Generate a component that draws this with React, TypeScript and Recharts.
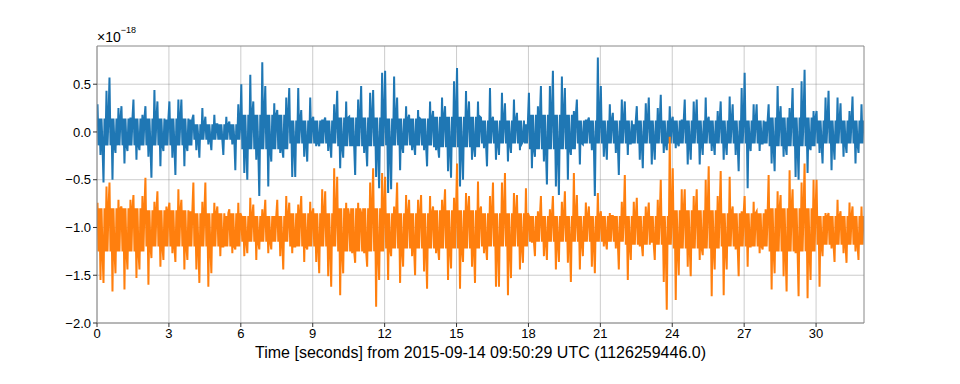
import React from "react";
import { LineChart, Line, XAxis, YAxis, CartesianGrid, ReferenceLine } from "recharts";

// Strain envelope read per 0.25 s bin (units of 1e-18): high and low excursion of each trace
const BIN_SECONDS = 0.25;
// Dense "core" band of each trace, read per 2 s
const CORE_SECONDS = 2;

const blueHigh = [
  0.29, 0.43, 0.57, 0.25, 0.27, 0.15, 0.34, 0.18, 0.27, 0.44, 0.32, 0.13, 0.32, 0.34, 0.34, 0.13,
  0.18, 0.25, 0.16, 0.18, 0.08, 0.16, 0.11, 0.29, 0.5, 0.6, 0.32, 0.73, 0.48, 0.3, 0.23, 0.36,
  0.46, 0.46, 0.23, 0.36, 0.16, 0.13, 0.15, 0.29, 0.43, 0.32, 0.16, 0.34, 0.48, 0.41, 0.44, 0.62,
  0.64, 0.58, 0.36, 0.27, 0.18, 0.23, 0.13, 0.32, 0.22, 0.36, 0.27, 0.53, 0.67, 0.43, 0.32, 0.32,
  0.15, 0.46, 0.16, 0.41, 0.3, 0.34, 0.2, 0.08, 0.41, 0.27, 0.48, 0.48, 0.64, 0.58, 0.46, 0.22,
  0.34, 0.13, 0.15, 0.78, 0.48, 0.29, 0.2, 0.34, 0.32, 0.08, 0.27, 0.3, 0.36, 0.25, 0.39, 0.27,
  0.16, 0.13, 0.34, 0.32, 0.34, 0.36, 0.16, 0.22, 0.32, 0.37, 0.29, 0.46, 0.62, 0.29, 0.29, 0.11,
  0.29, 0.48, 0.27, 0.25, 0.46, 0.53, 0.65, 0.22, 0.22, 0.36, 0.43, 0.36, 0.3, 0.22, 0.37, 0.29,
];

const blueLow = [
  -0.24, -0.53, -0.5, -0.22, -0.33, -0.2, -0.29, -0.19, -0.26, -0.48, -0.36, -0.2, -0.27, -0.45, -0.36, -0.2,
  -0.19, -0.27, -0.13, -0.19, -0.08, -0.24, -0.13, -0.4, -0.43, -0.5, -0.29, -0.67, -0.57, -0.31, -0.22, -0.27,
  -0.47, -0.47, -0.26, -0.31, -0.15, -0.15, -0.2, -0.27, -0.38, -0.27, -0.15, -0.45, -0.22, -0.36, -0.47, -0.59,
  -0.64, -0.6, -0.4, -0.22, -0.19, -0.24, -0.19, -0.36, -0.19, -0.27, -0.41, -0.48, -0.57, -0.5, -0.29, -0.26,
  -0.17, -0.36, -0.29, -0.24, -0.31, -0.22, -0.19, -0.1, -0.38, -0.26, -0.31, -0.55, -0.57, -0.66, -0.5, -0.24,
  -0.34, -0.13, -0.19, -0.67, -0.26, -0.29, -0.22, -0.45, -0.24, -0.12, -0.29, -0.38, -0.34, -0.29, -0.22, -0.19,
  -0.17, -0.15, -0.34, -0.29, -0.34, -0.24, -0.2, -0.24, -0.29, -0.24, -0.24, -0.41, -0.59, -0.2, -0.2, -0.12,
  -0.33, -0.41, -0.26, -0.24, -0.47, -0.5, -0.43, -0.19, -0.22, -0.33, -0.4, -0.29, -0.26, -0.22, -0.33, -0.22,
];

const orangeHigh = [
  -0.74, -0.57, -0.53, -0.71, -0.78, -0.71, -0.66, -0.67, -0.48, -0.73, -0.62, -0.78, -0.74, -0.6, -0.71, -0.83,
  -0.53, -0.73, -0.53, -0.74, -0.78, -0.88, -0.81, -0.74, -0.88, -0.69, -0.76, -0.81, -0.71, -0.88, -0.71, -0.67,
  -0.74, -0.76, -0.67, -0.73, -0.8, -0.6, -0.62, -0.38, -0.47, -0.74, -0.88, -0.74, -0.85, -0.53, -0.38, -0.43,
  -0.47, -0.78, -0.53, -0.66, -0.71, -0.71, -0.66, -0.67, -0.78, -0.71, -0.6, -0.69, -0.33, -0.64, -0.67, -0.52,
  -0.78, -0.67, -0.53, -0.53, -0.43, -0.64, -0.66, -0.59, -0.88, -0.83, -0.67, -0.81, -0.67, -0.73, -0.62, -0.43,
  -0.66, -0.74, -0.78, -0.64, -0.83, -0.85, -0.88, -0.73, -0.45, -0.73, -0.69, -0.78, -0.74, -0.71, -0.5, -0.05,
  -0.38, -0.6, -0.6, -0.67, -0.6, -0.5, -0.36, -0.67, -0.41, -0.47, -0.78, -0.83, -0.67, -0.73, -0.83, -0.81,
  -0.45, -0.62, -0.66, -0.4, -0.6, -0.53, -0.33, -0.5, -0.5, -0.85, -0.85, -0.71, -0.83, -0.74, -0.78, -0.78,
];

const orangeLow = [
  -1.55, -1.58, -1.67, -1.48, -1.65, -1.44, -1.53, -1.44, -1.6, -1.32, -1.41, -1.34, -1.27, -1.36, -1.44, -1.34,
  -1.44, -1.58, -1.62, -1.48, -1.3, -1.2, -1.27, -1.23, -1.3, -1.27, -1.34, -1.23, -1.27, -1.23, -1.3, -1.44,
  -1.27, -1.2, -1.36, -1.23, -1.36, -1.48, -1.51, -1.62, -1.71, -1.48, -1.27, -1.37, -1.27, -1.41, -1.83, -1.55,
  -1.55, -1.3, -1.58, -1.41, -1.3, -1.5, -1.46, -1.64, -1.27, -1.34, -1.55, -1.43, -1.64, -1.36, -1.41, -1.58,
  -1.27, -1.34, -1.62, -1.62, -1.71, -1.53, -1.44, -1.37, -1.16, -1.3, -1.3, -1.34, -1.44, -1.36, -1.37, -1.57,
  -1.44, -1.3, -1.41, -1.48, -1.2, -1.23, -1.22, -1.44, -1.55, -1.34, -1.2, -1.3, -1.16, -1.34, -1.57, -1.86,
  -1.76, -1.5, -1.41, -1.51, -1.34, -1.29, -1.72, -1.44, -1.71, -1.44, -1.23, -1.51, -1.41, -1.2, -1.27, -1.23,
  -1.65, -1.48, -1.51, -1.67, -1.27, -1.72, -1.74, -1.55, -1.62, -1.3, -1.22, -1.36, -1.27, -1.37, -1.25, -1.34,
];

const blueCoreHigh = [0.14, 0.14, 0.08, 0.18, 0.12, 0.15, 0.14, 0.16, 0.12, 0.18, 0.12, 0.12, 0.12, 0.12, 0.15, 0.12];
const blueCoreLow = [-0.14, -0.14, -0.08, -0.18, -0.12, -0.15, -0.14, -0.16, -0.12, -0.18, -0.12, -0.12, -0.12, -0.12, -0.15, -0.12];
const orangeCoreHigh = [-0.8, -0.82, -0.85, -0.88, -0.85, -0.8, -0.85, -0.82, -0.85, -0.88, -0.88, -0.88, -0.82, -0.85, -0.8, -0.88];
const orangeCoreLow = [-1.25, -1.2, -1.2, -1.15, -1.2, -1.25, -1.22, -1.22, -1.2, -1.15, -1.15, -1.18, -1.22, -1.2, -1.25, -1.18];

const xMajorTicks = [0, 3, 6, 9, 12, 15, 18, 21, 24, 27, 30];
const xMinorTicks = [
  0.75, 1.5, 2.25, 3.75, 4.5, 5.25, 6.75, 7.5, 8.25, 9.75, 10.5, 11.25, 12.75, 13.5, 14.25,
  15.75, 16.5, 17.25, 18.75, 19.5, 20.25, 21.75, 22.5, 23.25, 24.75, 25.5, 26.25, 27.75, 28.5,
  29.25, 30.75, 31.5,
];
const yTicks = [-2.0, -1.5, -1.0, -0.5, 0.0, 0.5];
const xTitle = "Time [seconds] from 2015-09-14 09:50:29 UTC (1126259446.0)";

// Each 0.25 s bin: one extreme, the core band swings, then the other extreme.
const data: { t: number; h1: number; l1: number }[] = [];
blueHigh.forEach((_, i) => {
  const c = Math.floor((i * BIN_SECONDS) / CORE_SECONDS);
  const b = [blueHigh[i], blueCoreLow[c], blueCoreHigh[c], blueLow[i]];
  const o = [orangeHigh[i], orangeCoreLow[c], orangeCoreHigh[c], orangeLow[i]];
  const order = i % 2 === 0 ? [0, 1, 2, 3, 2, 1] : [3, 2, 1, 0, 1, 2];
  order.forEach((k, j) => {
    data.push({ t: i * BIN_SECONDS + ((j + 0.5) * BIN_SECONDS) / order.length, h1: b[k], l1: o[k] });
  });
});

const FONT = "'Liberation Sans', Arial, Helvetica, sans-serif";
const fmtY = (v: number) => v.toFixed(1).replace("-", "\u2212");

export default function App() {
  return (
    <div style={{ position: "relative", width: 944, height: 368, fontFamily: FONT }}>
      <LineChart
        width={944}
        height={368}
        data={data}
        margin={{ top: 38, right: 88, bottom: 23, left: 39 }}
      >
        <XAxis
          xAxisId="minor"
          dataKey="t"
          type="number"
          domain={[0, 32]}
          ticks={xMinorTicks}
          tick={false}
          tickSize={2}
          tickLine={{ stroke: "#333" }}
          axisLine={false}
          height={0}
          allowDataOverflow
        />
        <XAxis
          dataKey="t"
          type="number"
          domain={[0, 32]}
          ticks={xMajorTicks}
          tickSize={4}
          tickLine={{ stroke: "#333" }}
          axisLine={{ stroke: "#888" }}
          tick={{ fill: "#000", fontSize: 13, fontFamily: FONT }}
          height={30}
          allowDataOverflow
          interval={0}
        />
        <YAxis
          type="number"
          domain={[-2.0, 0.9]}
          ticks={yTicks}
          tickFormatter={fmtY}
          tickSize={4}
          tickLine={{ stroke: "#333" }}
          axisLine={{ stroke: "#888" }}
          tick={{ fill: "#000", fontSize: 13, fontFamily: FONT }}
          width={50}
          allowDataOverflow
          interval={0}
        />
        <Line
          dataKey="h1"
          xAxisId={0}
          stroke="#1f77b4"
          strokeWidth={2}
          dot={false}
          isAnimationActive={false}
        />
        <Line
          dataKey="l1"
          xAxisId={0}
          stroke="#ff7f0e"
          strokeWidth={2}
          dot={false}
          isAnimationActive={false}
        />
        <CartesianGrid stroke="#808080" strokeOpacity={0.4} horizontalValues={yTicks} verticalValues={xMajorTicks} />
        <ReferenceLine x={32} stroke="#888" />
        <ReferenceLine y={0.9} stroke="#888" />
      </LineChart>
      <div
        style={{ position: "absolute", left: 89, top: 20, fontSize: 14, color: "#000", whiteSpace: "nowrap" }}
      >
        ×10<sup style={{ fontSize: 9, position: "relative", top: -3 }}>−18</sup>
      </div>
      <div
        style={{
          position: "absolute",
          left: 89,
          width: 767,
          top: 336,
          textAlign: "center",
          fontSize: 16,
          color: "#000",
          whiteSpace: "nowrap",
        }}
      >
        {xTitle}
      </div>
    </div>
  );
}
